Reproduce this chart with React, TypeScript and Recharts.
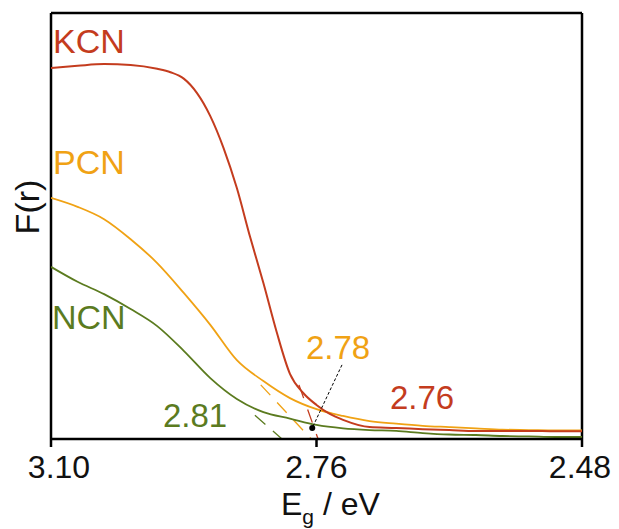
import { LineChart, Line, XAxis, YAxis, ReferenceLine, ReferenceDot } from "recharts";

// wavelength grid (nm) shared by the PCN / NCN spectra
const lambdaNm = [400, 405, 410, 415, 420, 425, 430, 435, 440, 445, 450, 455, 460, 465, 470, 475, 480, 485, 490, 495, 500];

// KCN is sampled a bit finer around its steep edge
const kcnNm = [400, 405, 410, 415, 420, 422.5, 425, 427.5, 430, 432.5, 435, 437.5, 440, 442.5, 445, 447.5, 450, 452.5, 455, 460, 465, 470, 475, 480, 485, 490, 495, 500];
const kcnF = [87.1, 87.6, 88.0, 87.8, 86.9, 86.1, 84.6, 81.2, 75.8, 68.3, 58.9, 47.4, 36.6, 25.1, 15.3, 10.8, 8.0, 5.9, 4.5, 2.8, 2.6, 2.3, 2.1, 1.9, 1.9, 1.9, 1.8, 1.8];
const pcnF = [56.6, 54.5, 51.6, 46.9, 41.3, 34.3, 26.8, 18.5, 13.6, 9.6, 7.0, 5.4, 4.2, 3.6, 3.1, 2.8, 2.5, 2.2, 2.1, 2.0, 2.0];
const ncnF = [40.4, 36.9, 34.0, 30.5, 26.5, 20.7, 14.3, 9.4, 6.3, 4.8, 3.3, 2.5, 2.1, 1.9, 1.4, 1.06, 0.94, 0.7, 0.6, 0.47, 0.47];

// band-edge tangents, extrapolated down to F(r) = 0
const kcnTangentNm = [446.7, 450.3];
const kcnTangentF = [12.7, 0];
const pcnTangentNm = [439.5, 449];
const pcnTangentF = [12.7, 0];
const ncnTangentNm = [438.4, 443.5];
const ncnTangentF = [5.6, 0];

// x ticks in nm, printed as photon energy
const tickNm = [400, 450, 500];
const toEv = (nm: number) => (1240 / nm).toFixed(2);

const RED = "#c43c1e";
const ORANGE = "#f0a214";
const GREEN = "#5b7b1f";

const series = (xs: number[], ys: number[]) => xs.map((x, i) => ({ x, y: ys[i] }));

const kcnData = series(kcnNm, kcnF);
const pcnData = series(lambdaNm, pcnF);
const ncnData = series(lambdaNm, ncnF);

const FONT = "'Liberation Sans', Arial, sans-serif";

const EnergyTick = (props: any) => {
  const { x, y, payload, index } = props;
  const dx = index === 0 ? 8 : index === tickNm.length - 1 ? -2 : 0;
  return (
    <text x={x + dx} y={y + 23} textAnchor="middle" fontSize={32} fontFamily={FONT} fill="#111">
      {toEv(payload.value)}
    </text>
  );
};

export default function App() {
  return (
    <div style={{ position: "absolute", left: 0, top: 0, width: 619, height: 529, background: "#fff" }}>
      <LineChart width={619} height={529} margin={{ top: 13, right: 37, bottom: 0, left: 51 }}>
        <XAxis
          type="number"
          dataKey="x"
          domain={[400, 500]}
          ticks={tickNm}
          height={90}
          tickSize={8}
          tickMargin={8}
          tick={<EnergyTick />}
          axisLine={{ stroke: "#000", strokeWidth: 2.5 }}
          tickLine={{ stroke: "#000", strokeWidth: 2.5 }}
          allowDataOverflow
        />
        <YAxis hide domain={[0, 100]} />
        {/* frame */}
        <ReferenceLine x={400} stroke="#000" strokeWidth={2.5} />
        <ReferenceLine x={500} stroke="#000" strokeWidth={2.5} />
        <ReferenceLine y={100} stroke="#000" strokeWidth={2.5} />

        <Line data={series(ncnTangentNm, ncnTangentF)} dataKey="y" stroke={GREEN} strokeWidth={1.3} strokeDasharray="14 10" dot={false} isAnimationActive={false} />
        <Line data={series(pcnTangentNm, pcnTangentF)} dataKey="y" stroke={ORANGE} strokeWidth={1.3} strokeDasharray="14 10" dot={false} isAnimationActive={false} />
        <Line data={series(kcnTangentNm, kcnTangentF)} dataKey="y" stroke={RED} strokeWidth={1.3} strokeDasharray="14 12" dot={false} isAnimationActive={false} />

        <Line data={ncnData} dataKey="y" type="monotone" stroke={GREEN} strokeWidth={1.8} dot={false} isAnimationActive={false} />
        <Line data={pcnData} dataKey="y" type="monotone" stroke={ORANGE} strokeWidth={1.8} dot={false} isAnimationActive={false} />
        <Line data={kcnData} dataKey="y" type="monotone" stroke={RED} strokeWidth={2} dot={false} isAnimationActive={false} />

        {/* leader from the 2.78 label down to the tangent crossing */}
        <ReferenceLine
          segment={[{ x: 454.8, y: 17.4 }, { x: 449.2, y: 2.6 }]}
          stroke="#000"
          strokeWidth={1}
          strokeDasharray="3 2"
        />
        <ReferenceDot x={449.2} y={2.6} r={3} fill="#000" stroke="none" />
      </LineChart>

      <svg width={619} height={529} style={{ position: "absolute", left: 0, top: 0, pointerEvents: "none" }} fontFamily={FONT}>
        <text x={53} y={53} fontSize={34} fill={RED}>KCN</text>
        <text x={53} y={174} fontSize={34} fill={ORANGE}>PCN</text>
        <text x={52} y={329} fontSize={34} fill={GREEN}>NCN</text>

        <text x={338} y={359} fontSize={33} fill={ORANGE} textAnchor="middle">2.78</text>
        <text x={422} y={409} fontSize={33} fill={RED} textAnchor="middle">2.76</text>
        <text x={195} y={427} fontSize={33} fill={GREEN} textAnchor="middle">2.81</text>

        <text transform="translate(39,207) rotate(-90)" fontSize={34} fill="#111" textAnchor="middle">F(r)</text>

        <text x={281} y={515} fontSize={32} fill="#111">
          E<tspan dy={9} fontSize={21}>g</tspan><tspan dy={-9}> / eV</tspan>
        </text>
      </svg>
    </div>
  );
}
